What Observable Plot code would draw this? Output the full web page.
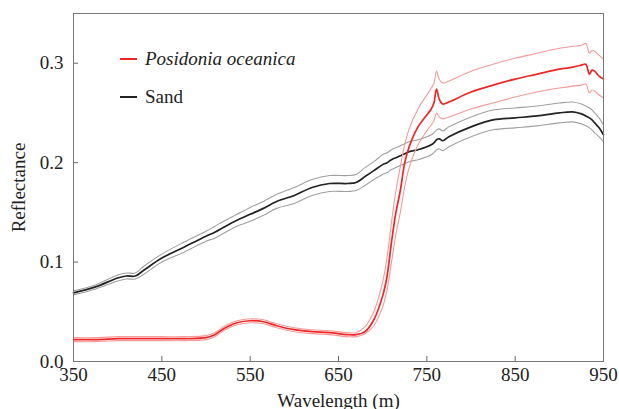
<!DOCTYPE html>
<html>
<head>
<meta charset="utf-8">
<script src="https://cdn.jsdelivr.net/npm/d3@7"></script>
<script src="https://cdn.jsdelivr.net/npm/@observablehq/plot@0.6"></script>
<style>
  html, body { margin: 0; padding: 0; background: white; }
  #wrap { position: relative; width: 619px; height: 409px; overflow: hidden; }
  .leg { position: absolute; font-family: "Liberation Serif", serif; font-size: 19px; color: #222; line-height: 1; white-space: nowrap; }
  .sw { position: absolute; height: 2px; width: 17px; }
</style>
</head>
<body>
<div id="wrap"></div>
<script>
// Wavelength samples (nm)
const wavelengths = [350,375,400,410,420,430,450,475,500,510,520,535,550,565,580,600,620,640,660,670,680,690,700,705,710,715,720,725,730,740,750,755,758,761,764,768,775,800,825,850,875,900,915,925,930,934,937,940,945,950];

// Sand reflectance: mean and envelope
const sandMean  = [0.069,0.075,0.084,0.086,0.086,0.092,0.104,0.115,0.126,0.130,0.135,0.142,0.148,0.154,0.161,0.167,0.175,0.179,0.179,0.180,0.186,0.192,0.198,0.200,0.203,0.205,0.207,0.209,0.211,0.213,0.216,0.218,0.220,0.223,0.224,0.222,0.226,0.236,0.243,0.245,0.247,0.250,0.251,0.249,0.247,0.245,0.243,0.240,0.235,0.228];
const sandUpper = [0.071,0.077,0.087,0.089,0.089,0.096,0.108,0.120,0.131,0.136,0.141,0.148,0.155,0.161,0.168,0.175,0.183,0.187,0.187,0.188,0.195,0.201,0.208,0.210,0.213,0.215,0.217,0.219,0.221,0.223,0.226,0.228,0.230,0.233,0.234,0.232,0.236,0.246,0.253,0.255,0.257,0.260,0.261,0.259,0.257,0.255,0.253,0.250,0.245,0.238];
const sandLower = [0.067,0.073,0.081,0.083,0.083,0.088,0.100,0.110,0.121,0.124,0.129,0.136,0.141,0.147,0.154,0.159,0.167,0.171,0.171,0.172,0.177,0.183,0.188,0.190,0.193,0.195,0.197,0.199,0.201,0.203,0.206,0.208,0.210,0.213,0.214,0.212,0.216,0.226,0.233,0.235,0.237,0.240,0.241,0.239,0.237,0.235,0.233,0.230,0.226,0.221];

// Posidonia oceanica reflectance: mean and envelope
const posMean  = [0.022,0.022,0.023,0.023,0.023,0.023,0.023,0.023,0.024,0.027,0.033,0.039,0.041,0.040,0.036,0.032,0.030,0.029,0.027,0.027,0.030,0.042,0.066,0.086,0.120,0.150,0.172,0.200,0.216,0.236,0.248,0.254,0.260,0.274,0.264,0.259,0.261,0.271,0.278,0.284,0.289,0.294,0.296,0.298,0.299,0.289,0.293,0.292,0.287,0.284];
const posUpper = [0.024,0.024,0.025,0.025,0.025,0.025,0.025,0.025,0.026,0.029,0.035,0.041,0.043,0.042,0.038,0.034,0.032,0.031,0.029,0.029,0.035,0.050,0.080,0.105,0.140,0.172,0.196,0.218,0.234,0.254,0.268,0.275,0.280,0.292,0.284,0.280,0.282,0.292,0.299,0.305,0.310,0.315,0.317,0.318,0.320,0.310,0.313,0.312,0.308,0.304];
const posLower = [0.020,0.020,0.021,0.021,0.021,0.021,0.021,0.021,0.022,0.025,0.031,0.037,0.039,0.038,0.034,0.030,0.028,0.027,0.025,0.025,0.028,0.036,0.055,0.072,0.100,0.128,0.150,0.176,0.195,0.218,0.232,0.238,0.242,0.250,0.246,0.244,0.246,0.254,0.260,0.266,0.271,0.275,0.277,0.278,0.279,0.270,0.273,0.272,0.268,0.265];

// Tick labels
const xTicks = [350,450,550,650,750,850,950];
const yTicks = [0.0,0.1,0.2,0.3];

const series = (vals) => wavelengths.map((w, i) => ({w, v: vals[i]}));

const chart = Plot.plot({
  width: 619,
  height: 409,
  marginLeft: 73,
  marginRight: 16,
  marginTop: 13,
  marginBottom: 48,
  style: {fontFamily: "'Liberation Serif', serif", fontSize: "19px", color: "#222", background: "white"},
  x: {domain: [350, 950], axis: null},
  y: {domain: [0, 0.35], axis: null},
  marks: [
    // inward tick marks
    Plot.axisX({ticks: xTicks, tickSize: 5, dy: -5, fill: "none", stroke: "#666", label: null}),
    Plot.axisY({ticks: yTicks, tickSize: 5, dx: 5, fill: "none", stroke: "#666", label: null}),
    // tick labels and axis titles
    Plot.axisX({ticks: xTicks, tickSize: 0, tickPadding: 6, label: "Wavelength (m)", labelAnchor: "center", labelOffset: 45, labelArrow: "none"}),
    Plot.axisY({ticks: yTicks, tickSize: 0, tickPadding: 10, tickFormat: d3.format(".1f"), label: "Reflectance", labelAnchor: "center", labelOffset: 62, labelArrow: "none"}),
    Plot.line(series(sandUpper), {x: "w", y: "v", stroke: "#a0a0a0", strokeWidth: 1.1, curve: "catmull-rom"}),
    Plot.line(series(sandLower), {x: "w", y: "v", stroke: "#a0a0a0", strokeWidth: 1.1, curve: "catmull-rom"}),
    Plot.line(series(sandMean), {x: "w", y: "v", stroke: "#222", strokeWidth: 1.7, curve: "catmull-rom"}),
    Plot.line(series(posUpper), {x: "w", y: "v", stroke: "#f49a9a", strokeWidth: 1.1, curve: "catmull-rom"}),
    Plot.line(series(posLower), {x: "w", y: "v", stroke: "#f49a9a", strokeWidth: 1.1, curve: "catmull-rom"}),
    Plot.line(series(posMean), {x: "w", y: "v", stroke: "#ee2626", strokeWidth: 1.7, curve: "catmull-rom"}),
    Plot.frame({stroke: "#777"})
  ]
});

const wrap = document.getElementById("wrap");
wrap.appendChild(chart);

// Legend (HTML overlay)
const legendItems = [
  {label: "Posidonia oceanica", color: "#ee2626", italic: true, top: 59},
  {label: "Sand", color: "#222", italic: false, top: 97}
];
for (const item of legendItems) {
  const sw = document.createElement("div");
  sw.className = "sw";
  sw.style.left = "120px";
  sw.style.top = (item.top - 1) + "px";
  sw.style.background = item.color;
  wrap.appendChild(sw);
  const t = document.createElement("div");
  t.className = "leg";
  t.textContent = item.label;
  t.style.left = "145px";
  t.style.top = (item.top - 10) + "px";
  if (item.italic) t.style.fontStyle = "italic";
  wrap.appendChild(t);
}
</script>
</body>
</html>
